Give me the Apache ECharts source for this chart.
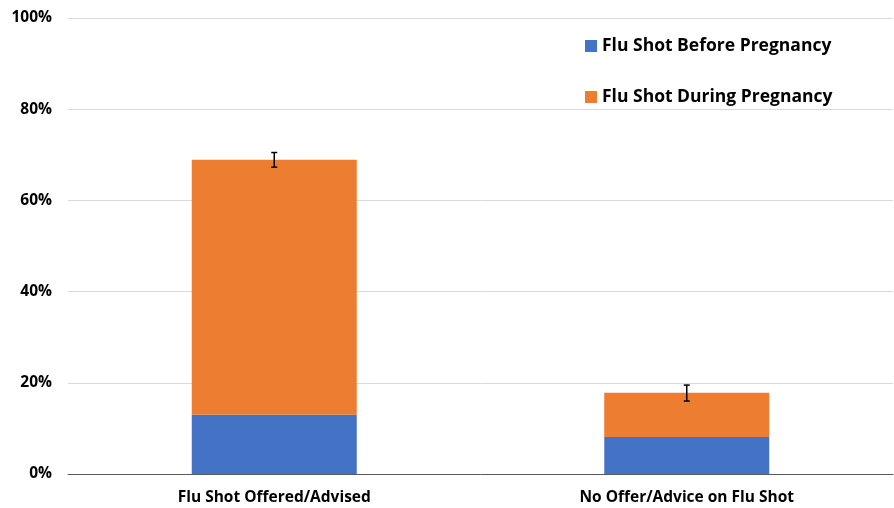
<!DOCTYPE html>
<html>
<head>
<meta charset="utf-8">
<script src="https://cdn.jsdelivr.net/npm/echarts@6/dist/echarts.min.js"></script>
<style>
  html, body { margin: 0; padding: 0; background: #fff; }
  #chart { width: 894px; height: 508px; }
</style>
</head>
<body>
<div id="chart"></div>
<script>
const categories = ["Flu Shot Offered/Advised", "No Offer/Advice on Flu Shot"];
const beforePregnancy = [13, 8.1];
const duringPregnancy = [55.9, 9.7];
const errLow = [67.3, 16];
const errHigh = [70.5, 19.5];
const yTicks = [0, 20, 40, 60, 80, 100];

const chart = echarts.init(document.getElementById("chart"));
const font = "'Open Sans', Lato, sans-serif";

const options = {
  animation: false,
  grid: { left: 68, right: 1, top: 18, bottom: 34, containLabel: false },
  legend: {
    data: ["Flu Shot Before Pregnancy", "Flu Shot During Pregnancy"],
    orient: "vertical",
    left: 585,
    top: 37,
    padding: 0,
    itemWidth: 12,
    itemHeight: 12,
    itemGap: 33,
    icon: "rect",
    textStyle: { color: "#000", fontSize: 17.5, fontWeight: "bold", fontFamily: font }
  },
  xAxis: {
    type: "category",
    data: categories,
    axisTick: { show: false },
    axisLine: { lineStyle: { color: "#595959", width: 1 } },
    axisLabel: { color: "#000", fontSize: 15.5, fontWeight: "bold", fontFamily: font, margin: 16 }
  },
  yAxis: {
    type: "value",
    min: yTicks[0],
    max: yTicks[yTicks.length - 1],
    interval: 20,
    axisLine: { show: false },
    axisTick: { show: false },
    splitLine: { lineStyle: { color: "#d9d9d9" } },
    axisLabel: {
      color: "#000", fontSize: 15.5, fontWeight: "bold", fontFamily: font, margin: 16,
      formatter: v => v + "%"
    }
  },
  series: [
    {
      name: "Flu Shot Before Pregnancy",
      type: "bar",
      stack: "total",
      barWidth: "40%",
      data: beforePregnancy,
      itemStyle: { color: "#4472C4" }
    },
    {
      name: "Flu Shot During Pregnancy",
      type: "bar",
      stack: "total",
      barWidth: "40%",
      data: duringPregnancy,
      itemStyle: { color: "#ED7D31" }
    },
    {
      type: "custom",
      name: "error",
      data: categories.map((c, i) => [i, errLow[i], errHigh[i]]),
      z: 10,
      renderItem: (params, api) => {
        const lo = api.coord([api.value(0), api.value(1)]);
        const hi = api.coord([api.value(0), api.value(2)]);
        const w = 3;
        const style = { stroke: "#000", lineWidth: 1.5 };
        return {
          type: "group",
          children: [
            { type: "line", shape: { x1: hi[0], y1: hi[1], x2: lo[0], y2: lo[1] }, style },
            { type: "line", shape: { x1: hi[0] - w, y1: hi[1], x2: hi[0] + w, y2: hi[1] }, style },
            { type: "line", shape: { x1: lo[0] - w, y1: lo[1], x2: lo[0] + w, y2: lo[1] }, style }
          ]
        };
      }
    }
  ]
};
chart.setOption(options);
</script>
</body>
</html>
